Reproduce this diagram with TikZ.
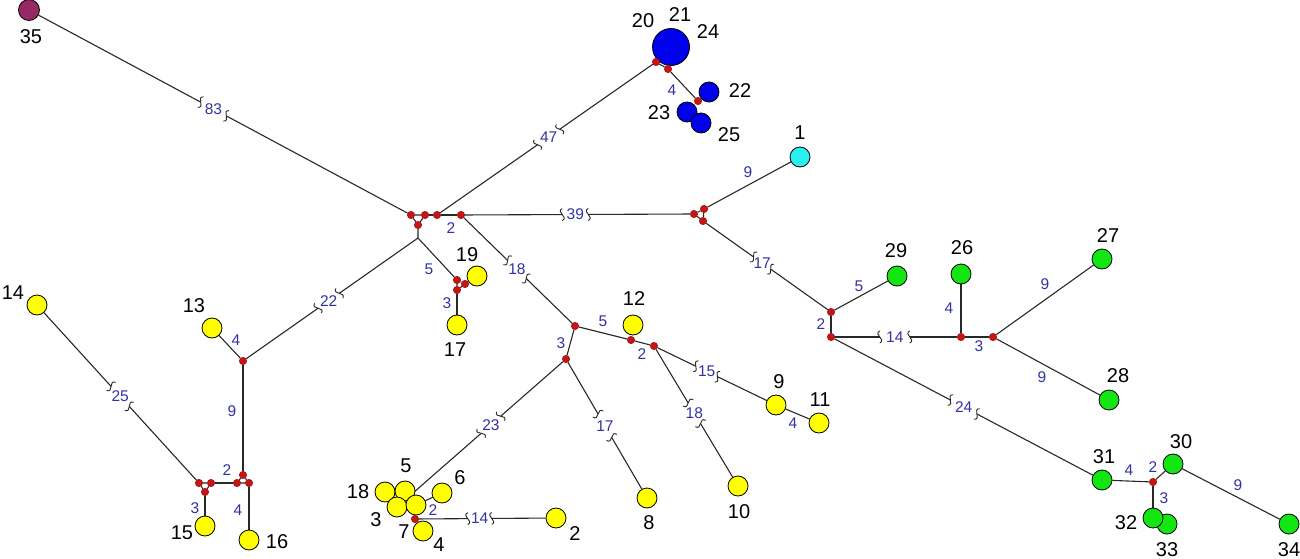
\documentclass[tikz,border=0pt]{standalone}
\usepackage{fontspec}
\setmainfont{Liberation Sans}
\usetikzlibrary{calc,backgrounds}
\definecolor{yelc}{RGB}{255,255,0}
\definecolor{grnc}{RGB}{20,230,20}
\definecolor{bluc}{RGB}{0,0,235}
\definecolor{cyac}{RGB}{40,240,240}
\definecolor{marc}{RGB}{150,40,100}
\definecolor{redc}{RGB}{200,20,20}
\definecolor{labc}{RGB}{50,50,165}
\definecolor{linc}{RGB}{40,40,40}
\tikzset{
  edge/.style={draw=linc, line width=1.1pt},
  nd/.style={circle, draw=black, line width=0.8pt, minimum size=20pt, inner sep=0pt},
  yel/.style={nd, fill=yelc},
  grn/.style={nd, fill=grnc},
  blu/.style={nd, fill=bluc},
  jun/.style={circle, fill=redc, draw=redc!70!black, line width=0.4pt, minimum size=7.5pt, inner sep=0pt},
  nlab/.style={font=\fontsize{20}{24}\selectfont, text=black, inner sep=0pt},
  elab/.style={font=\fontsize{15.5}{18}\selectfont, text=labc, inner sep=0pt},
}
\newcommand{\brk}[5]{%
  \path (#1) -- (#2) coordinate[pos=#3] (bc);
  \path ($(bc)!#5pt!(#1)$) coordinate (ba);
  \path ($(bc)!#5pt!(#2)$) coordinate (bb);
  \draw[edge] (#1) -- (ba);
  \draw[edge] (#2) -- (bb);
  \pgfmathanglebetweenpoints{\pgfpointanchor{#1}{center}}{\pgfpointanchor{#2}{center}}%
  \let\brkang\pgfmathresult
  \draw[edge, line width=0.9pt, shift={(ba)}, rotate=\brkang] (0,-6) .. controls (-7,-2.5) and (7,2.5) .. (0,6);
  \draw[edge, line width=0.9pt, shift={(bb)}, rotate=\brkang] (0,-6) .. controls (-7,-2.5) and (7,2.5) .. (0,6);
  \node[elab] at (bc) {#4};
}
\begin{document}
\begin{tikzpicture}[x=1pt,y=-1pt]
\useasboundingbox (0,0) rectangle (1300,559);
% ---- main nodes
\node[nd, fill=marc, minimum size=21pt] (n35) at (29,10) {};
\node[blu, minimum size=37pt] (n20) at (671,47) {};
\node[blu] (n22) at (709,92) {};
\node[blu] (n23) at (687,112) {};
\node[blu] (n25) at (701,123) {};
\node[nd, fill=cyac] (n1) at (800,157) {};
\node[yel] (n19) at (477,276) {};
\node[yel] (n17) at (457,325) {};
\node[yel] (n13) at (212,328) {};
\node[yel] (n14) at (37,305) {};
\node[yel] (n15) at (205,526) {};
\node[yel] (n16) at (249,540) {};
\node[yel] (n12) at (633,325) {};
\node[yel] (n9) at (776,405) {};
\node[yel] (n11) at (819,423) {};
\node[yel] (n10) at (738,486) {};
\node[yel] (n8) at (647,498) {};
\node[yel] (n2) at (556,518) {};
\node[yel] (n18) at (385,492) {};
\node[yel] (n5) at (405,491) {};
\node[yel] (n6) at (442,493) {};
\node[yel] (n3) at (397,507) {};
\node[yel] (n7) at (416,505) {};
\node[yel] (n4) at (423,531) {};
\node[grn] (n29) at (897,276) {};
\node[grn] (n26) at (961,274) {};
\node[grn] (n27) at (1102,259) {};
\node[grn] (n28) at (1109,400) {};
\node[grn] (n31) at (1102,480) {};
\node[grn] (n30) at (1173,464) {};
\node[grn] (n33) at (1167,524) {};
\node[grn] (n32) at (1153,518) {};
\node[grn] (n34) at (1289,524) {};
% ---- junctions
\node[jun] (j1) at (411,215) {};
\node[jun] (j2) at (425,215) {};
\node[jun] (j3) at (418,225) {};
\node[jun] (j4) at (437,215) {};
\node[jun] (j5) at (461,215) {};
\coordinate (b1) at (418,238);
\node[jun] (k1) at (457,280) {};
\node[jun] (k2) at (465,284) {};
\node[jun] (k3) at (457,290) {};
\node[jun] (m) at (243,361) {};
\node[jun] (p1) at (243,475) {};
\node[jun] (p2) at (237,483) {};
\node[jun] (p3) at (249,483) {};
\node[jun] (q1) at (199,483) {};
\node[jun] (q2) at (211,483) {};
\node[jun] (q3) at (205,492) {};
\node[jun] (r) at (575,326) {};
\node[jun] (s1) at (631,340) {};
\node[jun] (s2) at (654,346) {};
\node[jun] (t) at (566,359) {};
\node[jun] (u) at (415,519) {};
\node[jun] (v1) at (656,62) {};
\node[jun] (v2) at (668,69) {};
\node[jun] (v3) at (698,101) {};
\node[jun] (w1) at (694,214) {};
\node[jun] (w2) at (704,209) {};
\node[jun] (w3) at (703,221) {};
\node[jun] (x1) at (831,312) {};
\node[jun] (x2) at (831,337) {};
\node[jun] (y1) at (961,337) {};
\node[jun] (y2) at (993,337) {};
\node[jun] (z) at (1153,482) {};
% ---- edges
\begin{scope}[on background layer]
\draw[edge] (j1) -- (j2) -- (j3) -- (j1);
\draw[edge] (j2) -- (j4) -- (j5);
\draw[edge] (j3) -- (b1) -- (k1);
\draw[edge] (k1) -- (k2) -- (k3) -- (k1);
\draw[edge] (k2) -- (n19);
\draw[edge] (k3) -- (n17);
\draw[edge] (m) -- (n13);
\draw[edge] (m) -- (p1);
\draw[edge] (p1) -- (p2) -- (p3) -- (p1);
\draw[edge] (q1) -- (q2) -- (q3) -- (q1);
\draw[edge] (q2) -- (p2);
\draw[edge] (q3) -- (n15);
\draw[edge] (p3) -- (n16);
\draw[edge] (v1) -- (v2) -- (v3);
\draw[edge] (w1) -- (w2) -- (w3) -- (w1);
\draw[edge] (w2) -- (n1);
\draw[edge] (x1) -- (x2);
\draw[edge] (x1) -- (n29);
\draw[edge] (y1) -- (n26);
\draw[edge] (y1) -- (y2);
\draw[edge] (y2) -- (n27);
\draw[edge] (y2) -- (n28);
\draw[edge] (n31) -- (z);
\draw[edge] (z) -- (n30);
\draw[edge] (z) -- (n32);
\draw[edge] (n30) -- (n34);
\draw[edge] (r) -- (s1) -- (s2);
\draw[edge] (r) -- (t);
\draw[edge] (n9) -- (n11);
\draw[edge] (n7) -- (n6);
\brk{n35}{j1}{0.474}{83}{14.5}
\brk{b1}{m}{0.52}{22}{13}
\brk{n14}{q1}{0.5}{25}{13.5}
\brk{j4}{v1}{0.51}{47}{13.5}
\brk{j5}{w1}{0.49}{39}{13}
\brk{w3}{x1}{0.46}{17}{10.5}
\brk{x2}{y1}{0.49}{14}{15}
\brk{x2}{n31}{0.5}{24}{15}
\brk{j5}{r}{0.49}{18}{13}
\brk{s2}{n9}{0.45}{15}{12}
\brk{s2}{n10}{0.5}{18}{12}
\brk{t}{n8}{0.5}{17}{13.5}
\brk{t}{n3}{0.456}{23}{13}
\brk{u}{n2}{0.48}{14}{12}
\end{scope}
% ---- edge labels
\node[elab] (e1) at (451,228) {2};
\node[elab] (e2) at (429,269) {5};
\node[elab] (e3) at (447,303) {3};
\node[elab] (e4) at (236,340) {4};
\node[elab] (e5) at (232,411) {9};
\node[elab] (e6) at (227,470) {2};
\node[elab] (e7) at (195,508) {3};
\node[elab] (e8) at (238,510) {4};
\node[elab] (e9) at (603,321) {5};
\node[elab] (e10) at (642,354) {2};
\node[elab] (e11) at (561,343) {3};
\node[elab] (e12) at (793,423) {4};
\node[elab] (e13) at (433,510) {2};
\node[elab] (e14) at (672,90) {4};
\node[elab] (e15) at (748,172) {9};
\node[elab] (e16) at (821,324) {2};
\node[elab] (e17) at (859,286) {5};
\node[elab] (e18) at (949,308) {4};
\node[elab] (e19) at (979,346) {3};
\node[elab] (e20) at (1045,284) {9};
\node[elab] (e21) at (1042,377) {9};
\node[elab] (e22) at (1129,470) {4};
\node[elab] (e23) at (1153,467) {2};
\node[elab] (e24) at (1164,498) {3};
\node[elab] (e25) at (1238,485) {9};
% ---- node labels
\node[nlab] (l35) at (31,37) {35};
\node[nlab] (l20) at (643,21) {20};
\node[nlab] (l21) at (680,15) {21};
\node[nlab] (l24) at (708,32) {24};
\node[nlab] (l22) at (740,91) {22};
\node[nlab] (l23) at (659,113) {23};
\node[nlab] (l25) at (729,135) {25};
\node[nlab] (l1) at (800,133) {1};
\node[nlab] (l19) at (467,255) {19};
\node[nlab] (l17) at (455,350) {17};
\node[nlab] (l12) at (634,299) {12};
\node[nlab] (l9) at (779,382) {9};
\node[nlab] (l11) at (820,400) {11};
\node[nlab] (l10) at (739,512) {10};
\node[nlab] (l8) at (649,523) {8};
\node[nlab] (l2) at (575,534) {2};
\node[nlab] (l5) at (406,466) {5};
\node[nlab] (l6) at (460,478) {6};
\node[nlab] (l7) at (404,532) {7};
\node[nlab] (l4) at (439,545) {4};
\node[nlab] (l18) at (358,492) {18};
\node[nlab] (l3) at (376,520) {3};
\node[nlab] (l14) at (13,293) {14};
\node[nlab] (l13) at (194,306) {13};
\node[nlab] (l15) at (182,533) {15};
\node[nlab] (l16) at (277,542) {16};
\node[nlab] (l29) at (896,251) {29};
\node[nlab] (l26) at (962,248) {26};
\node[nlab] (l27) at (1108,236) {27};
\node[nlab] (l28) at (1118,376) {28};
\node[nlab] (l31) at (1104,457) {31};
\node[nlab] (l30) at (1181,442) {30};
\node[nlab] (l32) at (1126,523) {32};
\node[nlab] (l33) at (1167,550) {33};
\node[nlab] (l34) at (1289,550) {34};
\end{tikzpicture}
\end{document}
